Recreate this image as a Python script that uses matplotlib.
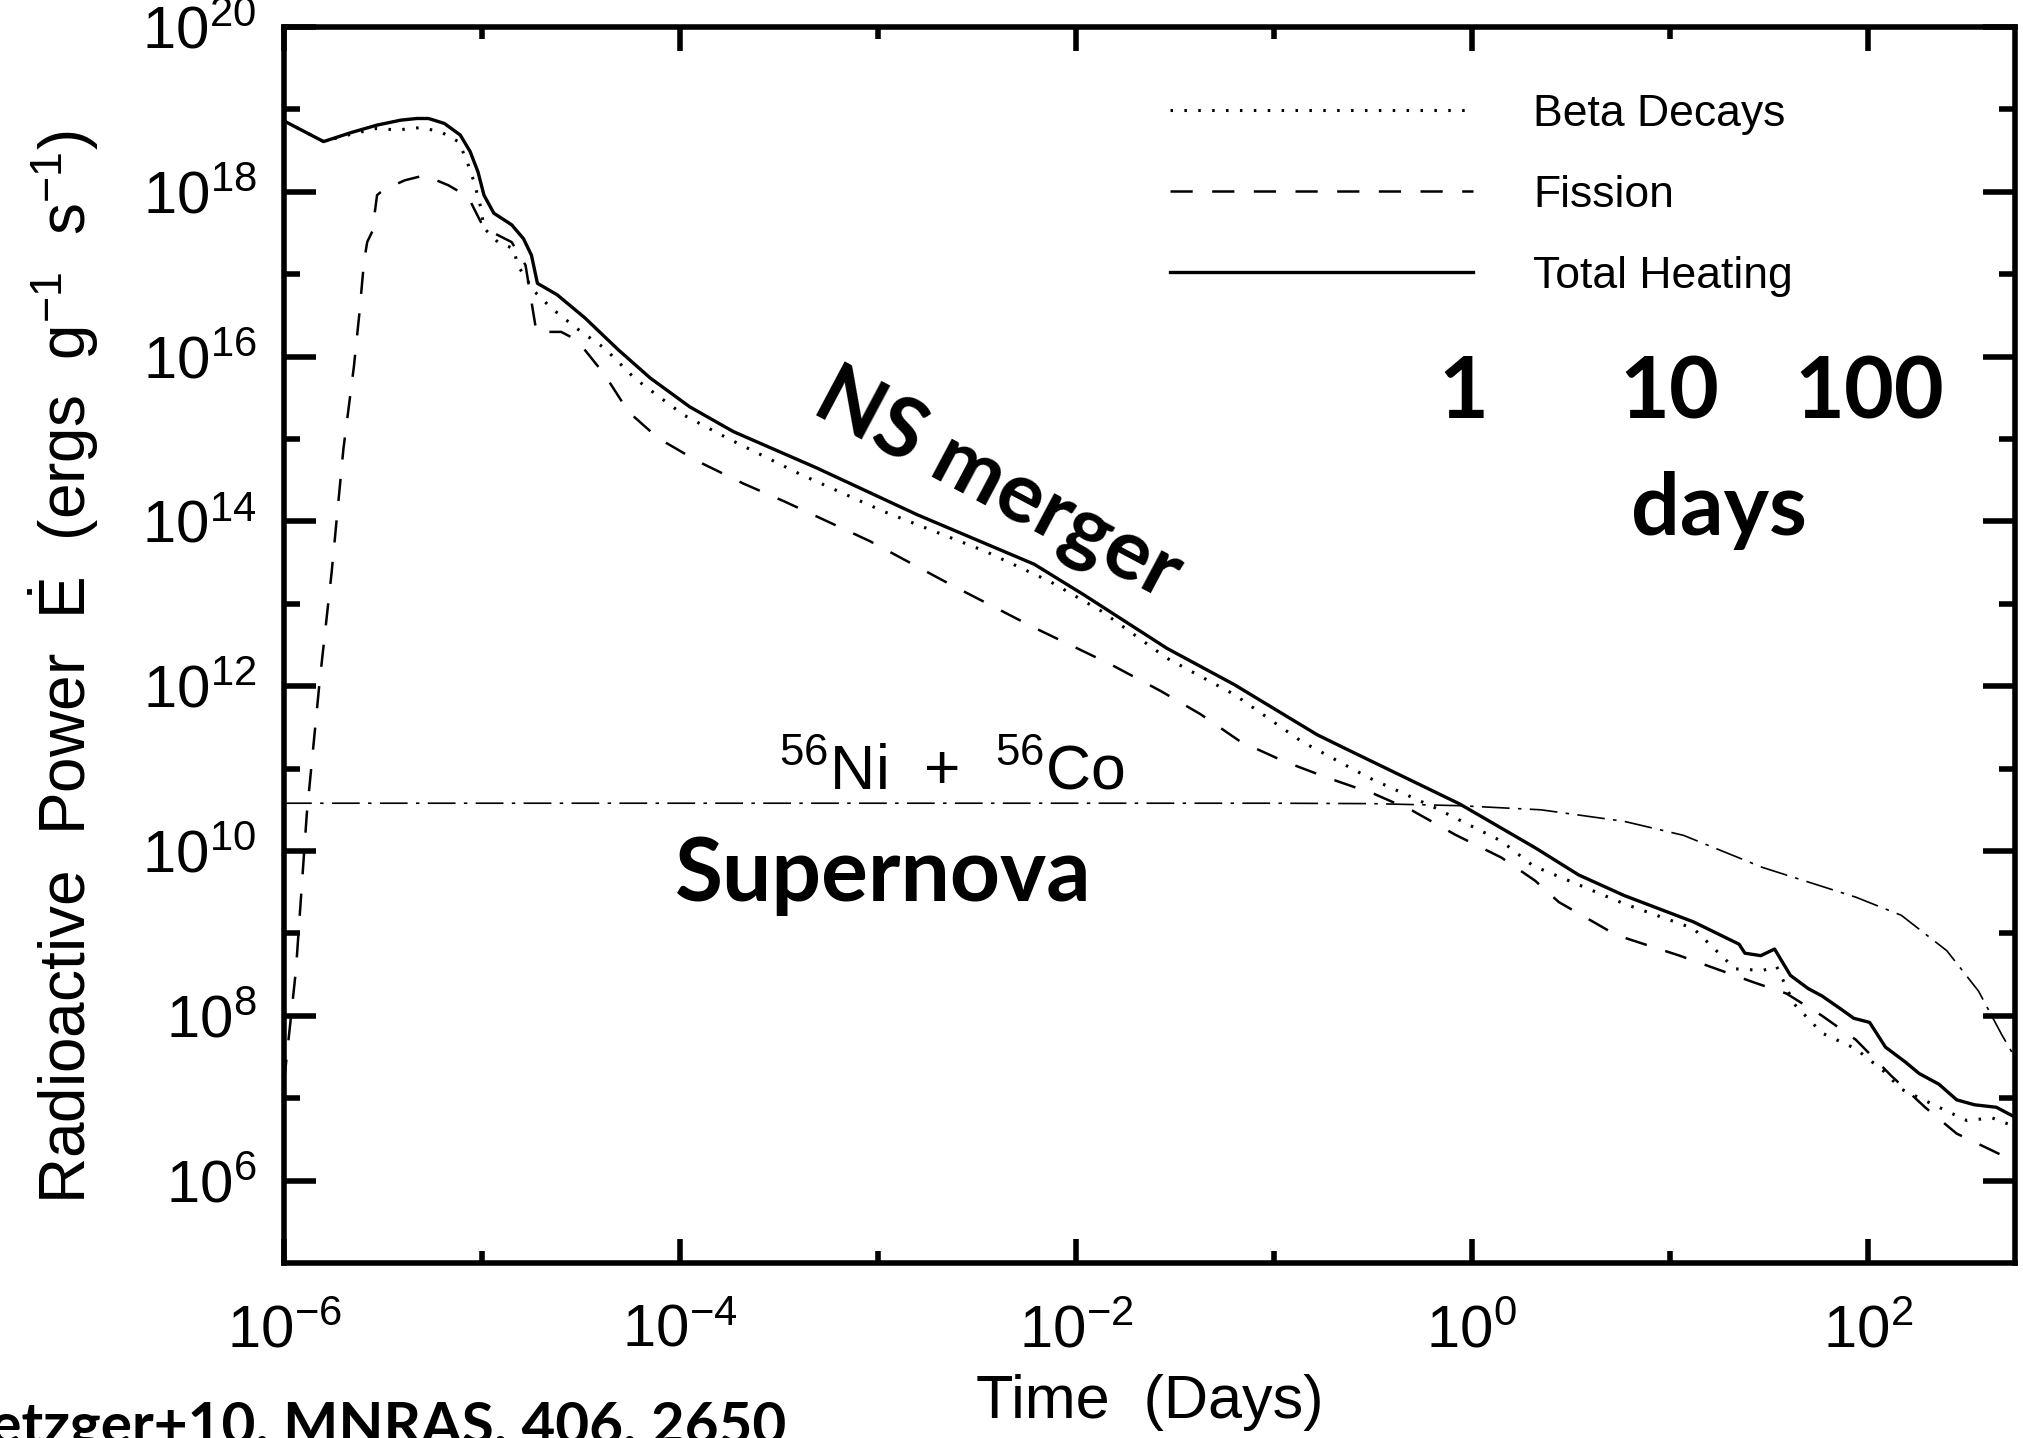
import numpy as np
import matplotlib
matplotlib.use('Agg')
import matplotlib.pyplot as plt
from matplotlib.ticker import FixedLocator, FuncFormatter, NullFormatter

plt.rcParams['font.family'] = ['Liberation Sans', 'DejaVu Sans']
plt.rcParams['mathtext.fontset'] = 'custom'
plt.rcParams['mathtext.rm'] = 'Liberation Sans'
plt.rcParams['mathtext.it'] = 'Liberation Sans:italic'
plt.rcParams['mathtext.bf'] = 'Liberation Sans:bold'
plt.rcParams['lines.scale_dashes'] = False

# values, as log10(time / days) and log10(E / erg g^-1 s^-1)
total_logt = [-6.00, -5.80, -5.66, -5.53, -5.41, -5.33, -5.27, -5.19, -5.11, -5.06,
              -5.02, -4.99, -4.94, -4.85, -4.79, -4.75, -4.72, -4.62, -4.48, -4.31,
              -4.15, -3.95, -3.73, -3.31, -2.80, -2.21, -1.96, -1.54, -1.20, -0.78,
              -0.61, -0.06, 0.32, 0.54, 0.77, 1.12, 1.35, 1.38, 1.46, 1.53,
              1.61, 1.70, 1.77, 1.86, 1.93, 2.01, 2.09, 2.19, 2.26, 2.36,
              2.45, 2.54, 2.65, 2.76]
total_logE = [18.86, 18.61, 18.72, 18.81, 18.87, 18.89, 18.89, 18.83, 18.69, 18.49,
              18.24, 17.96, 17.74, 17.60, 17.43, 17.23, 16.89, 16.75, 16.47, 16.08,
              15.74, 15.39, 15.09, 14.65, 14.08, 13.48, 13.11, 12.46, 12.02, 11.41,
              11.21, 10.57, 10.04, 9.71, 9.46, 9.14, 8.87, 8.76, 8.73, 8.81,
              8.49, 8.33, 8.24, 8.09, 7.97, 7.92, 7.62, 7.44, 7.30, 7.17,
              6.98, 6.92, 6.89, 6.75]

beta_logt = [-6.00, -5.80, -5.66, -5.53, -5.43, -5.31, -5.21, -5.12, -5.08, -5.04,
             -5.005, -4.99, -4.92, -4.84, -4.82, -4.735, -4.65, -4.52, -4.38, -4.23,
             -4.12, -3.98, -3.76, -3.39, -2.97, -2.46, -2.13, -1.87, -1.54, -1.20,
             -0.86, -0.52, -0.19, 0.15, 0.31, 0.57, 0.77, 1.12, 1.33, 1.47,
             1.54, 1.63, 1.77, 1.94, 2.08, 2.17, 2.36, 2.50, 2.63, 2.76]
beta_logE = [18.86, 18.61, 18.70, 18.77, 18.75, 18.78, 18.73, 18.61, 18.40, 18.12,
             17.80, 17.56, 17.39, 17.31, 17.11, 16.79, 16.59, 16.34, 16.10, 15.74,
             15.54, 15.29, 15.01, 14.57, 14.12, 13.64, 13.27, 12.91, 12.34, 11.90,
             11.33, 10.89, 10.53, 10.12, 9.82, 9.56, 9.36, 9.06, 8.57, 8.55,
             8.60, 8.14, 7.79, 7.60, 7.33, 7.11, 6.89, 6.73, 6.76, 6.64]

fission_logt = [-6.00, -5.94, -5.885, -5.82, -5.76, -5.70, -5.647, -5.62, -5.596, -5.58,
                -5.554, -5.53, -5.50, -5.39, -5.29, -5.17, -5.07, -5.02, -4.99, -4.85,
                -4.78, -4.725, -4.60, -4.52, -4.38, -4.26, -4.11, -3.91, -3.68, -3.47,
                -3.04, -2.63, -2.21, -1.82, -1.57, -1.37, -1.17, -0.95, -0.73, -0.49,
                -0.30, -0.085, 0.15, 0.32, 0.44, 0.73, 1.05, 1.42, 1.59, 1.77,
                1.94, 2.12, 2.29, 2.45, 2.59, 2.78]
fission_logE = [7.20, 8.55, 10.45, 12.06, 13.37, 14.88, 15.88, 16.51, 17.15, 17.39,
                17.52, 17.96, 18.02, 18.14, 18.20, 18.08, 17.94, 17.70, 17.56, 17.39,
                17.11, 16.30, 16.30, 16.20, 15.78, 15.33, 15.01, 14.73, 14.46, 14.24,
                13.76, 13.23, 12.71, 12.26, 11.94, 11.66, 11.33, 11.09, 10.89, 10.69,
                10.49, 10.20, 9.92, 9.64, 9.38, 8.98, 8.73, 8.41, 8.27, 8.00,
                7.71, 7.27, 6.89, 6.57, 6.41, 6.19]

nico_logt = [-6.0, -1.0, -0.5, -0.06, 0.35, 0.77, 1.07, 1.47, 1.94, 2.17, 2.40, 2.56, 2.68, 2.76]
nico_logE = [10.58, 10.58, 10.575, 10.55, 10.50, 10.36, 10.19, 9.80, 9.44, 9.22, 8.79, 8.30, 7.76, 7.43]

x_major = [-6, -4, -2, 0, 2]
x_minor = [-5, -3, -1, 1]
y_major = [6, 8, 10, 12, 14, 16, 18, 20]
y_minor = [7, 9, 11, 13, 15, 17, 19]

fig = plt.figure(figsize=(20.23, 14.38), dpi=100)
ax = fig.add_axes([0.1404, 0.1217, 0.8557, 0.8595])

ax.plot(10**np.array(beta_logt), 10**np.array(beta_logE), color='k', lw=2.2,
        ls=(0, (1.8, 8.2)), label='Beta Decays')
ax.plot(10**np.array(fission_logt), 10**np.array(fission_logE), color='k', lw=1.8,
        ls=(0, (16, 14)), label='Fission')
ax.plot(10**np.array(total_logt), 10**np.array(total_logE), color='k', lw=2.4,
        label='Total Heating')
ax.plot(10**np.array(nico_logt), 10**np.array(nico_logE), color='k', lw=1.2,
        ls=(0, (20, 6, 2.5, 6)))

ax.set_xscale('log')
ax.set_yscale('log')
ax.set_xlim(1e-6, 10**2.745)
ax.set_ylim(1e5, 1e20)

ax.xaxis.set_major_locator(FixedLocator([10.0**p for p in x_major]))
ax.xaxis.set_minor_locator(FixedLocator([10.0**p for p in x_minor]))
ax.yaxis.set_major_locator(FixedLocator([10.0**p for p in y_major]))
ax.yaxis.set_minor_locator(FixedLocator([10.0**p for p in y_minor]))
fmt = FuncFormatter(lambda v, pos: r'$10^{%d}$' % round(np.log10(v)))
ax.xaxis.set_major_formatter(fmt)
ax.yaxis.set_major_formatter(fmt)
ax.xaxis.set_minor_formatter(NullFormatter())
ax.yaxis.set_minor_formatter(NullFormatter())

for s in ax.spines.values():
    s.set_linewidth(4)
ax.tick_params(which='both', direction='in', top=True, right=True, width=4, labelsize=43)
ax.tick_params(axis='x', which='major', length=17, pad=30)
ax.tick_params(axis='x', which='minor', length=8.6)
ax.tick_params(axis='y', which='major', length=23, pad=20)
ax.tick_params(axis='y', which='minor', length=11.5)

ax.set_xlabel('Time  (Days)', fontsize=44)
ax.set_ylabel(r'Radioactive  Power  $\dot{\mathrm{E}}$  (ergs  g$^{-1}$  s$^{-1}$)',
              fontsize=46)
ax.xaxis.set_label_coords(0.5, -0.09)
ax.yaxis.set_label_coords(-0.106, 0.482)

ax.legend(loc='upper left', bbox_to_anchor=(0.512, 0.946), frameon=False, fontsize=32,
          handlelength=6.8, handletextpad=1.37, labelspacing=0.9,
          borderpad=0, borderaxespad=0)

bold = dict(family=['Lato', 'DejaVu Sans'], fontweight='bold', color='k')
ax.text(10**-2.45, 10**14.18, 'NS merger', fontsize=61, rotation=-28,
        rotation_mode='anchor', ha='center', va='baseline', **bold)
ax.text(10**-2.975, 10**9.39, 'Supernova', fontsize=63, ha='center', va='baseline', **bold)
ax.text(10**-2.626, 10**10.75, r'$^{56}$Ni  +  $^{56}$Co', fontsize=45,
        ha='center', va='baseline')
ax.text(10**-0.04, 10**15.25, '1', fontsize=62, ha='center', va='baseline', **bold)
ax.text(10**1.0, 10**15.25, '10', fontsize=62, ha='center', va='baseline', **bold)
ax.text(10**2.01, 10**15.25, '100', fontsize=62, ha='center', va='baseline', **bold)
ax.text(10**1.248, 10**13.84, 'days', fontsize=62, ha='center', va='baseline', **bold)

fig.text(786 / 2023, 1 - 1444 / 1438, 'Metzger+10, MNRAS, 406, 2650', fontsize=42,
         ha='right', va='baseline', **bold)

fig.savefig('out.png', dpi=100)
